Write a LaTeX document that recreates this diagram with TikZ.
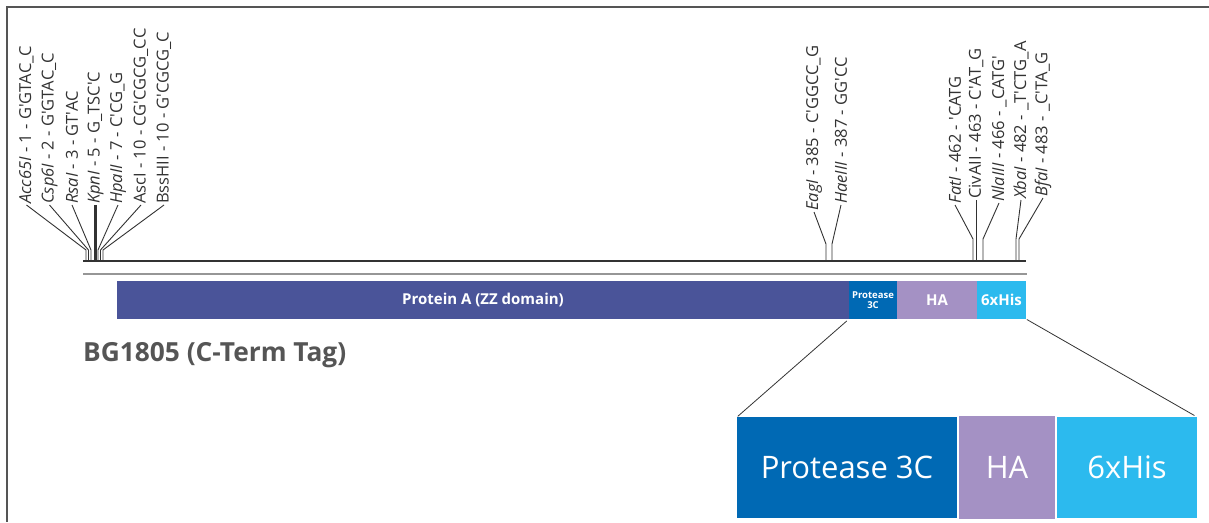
\documentclass[tikz,border=0pt]{standalone}
\usepackage{fontspec}
\setmainfont{Open Sans}
\usepackage{tikz}
\usetikzlibrary{
	positioning,
	calc
}
\definecolor{FrameGray}{RGB}{85,85,85}
\definecolor{LineDark}{RGB}{50,50,50}
\definecolor{LineLight}{RGB}{150,150,150}
\definecolor{ZZBlue}{RGB}{74,84,153}
\definecolor{CutBlue}{RGB}{0,105,180}
\definecolor{HALilac}{RGB}{164,145,196}
\definecolor{HisCyan}{RGB}{44,186,238}
\newcommand{\cutq}{\textquotesingle}

\tikzset{
	sitelabel/.style={
		rotate=90,
		anchor=west,
		inner sep=1pt,
		text=LineDark,
		font=\fontsize{16.5}{16.5}\selectfont
	},
	leader/.style={
		LineDark,
		line width=0.9pt
	},
	seg/.style={
		anchor=west,
		inner sep=0pt,
		outer sep=0pt,
		minimum height=38pt,
		text=white,
		font=\fontsize{15}{15}\selectfont\bfseries
	},
	bigseg/.style={
		inner sep=0pt,
		outer sep=0pt,
		minimum height=101pt,
		text=white,
		font=\fontsize{31}{31}\selectfont
	}
}

\begin{document}
\begin{tikzpicture}[x=1pt,y=-1pt]
				
				\useasboundingbox (0,0) rectangle (1209,522);
				
				% Frame
				\draw[
				FrameGray,
				line width=1.6pt
				]
				(1209,7) -- (7,7) -- (7,522);
				
				% Cut sites on the sequence
				\coordinate (acc-cut) at (86,261);
				\coordinate (csp-cut) at (88.5,261);
				\coordinate (rsa-cut) at (91,261);
				\coordinate (kpn-cut) at (95.5,261);
				\coordinate (hpa-cut) at (98,261);
				\coordinate (asc-cut) at (100.5,261);
				\coordinate (bss-cut) at (103,261);
				\coordinate (eag-cut) at (826,261);
				\coordinate (hae-cut) at (832,261);
				\coordinate (fat-cut) at (973,261);
				\coordinate (civ-cut) at (976,261);
				\coordinate (nla-cut) at (983,261);
				\coordinate (xba-cut) at (1016,261);
				\coordinate (bfa-cut) at (1019,261);
				
				% Enzyme labels
				\node[sitelabel] (acc) at (26.5,205) {{\itshape Acc65I} - 1 - G\cutq GTAC\_C};
				\node[sitelabel] (csp) at (49.5,205) {{\itshape Csp6I} - 2 - G\cutq GTAC\_C};
				\node[sitelabel] (rsa) at (72,205) {{\itshape RsaI} - 3 - GT\cutq AC};
				\node[sitelabel] (kpn) at (95.5,205) {{\itshape KpnI} - 5 - G\_TSC\cutq C};
				\node[sitelabel] (hpa) at (118,205) {{\itshape HpaII} - 7 - C\cutq CG\_G};
				\node[sitelabel] (asc) at (141,205) {AscI - 10 - CG\cutq CGCG\_CC};
				\node[sitelabel] (bss) at (164,205) {BssHII - 10 - G\cutq CGCG\_C};
				
				\node[sitelabel] (eag) at (814,212) {{\itshape EagI} - 385 - C\cutq GGCC\_G};
				\node[sitelabel] (hae) at (841,205) {{\itshape HaeIII} - 387 - GG\cutq CC};
				
				\node[sitelabel] (fat) at (955,205) {{\itshape FatI} - 462 - \cutq CATG};
				\node[sitelabel] (civ) at (976,200) {CivAII - 463 - C\cutq AT\_G};
				\node[sitelabel] (nla) at (999,203) {{\itshape NlaIII} - 466 - \_CATG\cutq};
				\node[sitelabel] (xba) at (1021,200) {{\itshape XbaI} - 482 - \_T\cutq CTG\_A};
				\node[sitelabel] (bfa) at (1043,198) {{\itshape BfaI} - 483 - \_C\cutq TA\_G};
				
				% Leaders
				\draw[leader] (acc.west) -- ([yshift=11pt]acc-cut) -- (acc-cut);
				\draw[leader] (csp.west) -- ([yshift=11pt]csp-cut) -- (csp-cut);
				\draw[leader] (rsa.west) -- ([yshift=11pt]rsa-cut) -- (rsa-cut);
				\draw[leader, line width=2.2pt] (kpn.west) -- (kpn-cut);
				\draw[leader] (hpa.west) -- ([yshift=11pt]hpa-cut) -- (hpa-cut);
				\draw[leader] (asc.west) -- ([yshift=11pt]asc-cut) -- (asc-cut);
				\draw[leader] (bss.west) -- ([yshift=11pt]bss-cut) -- (bss-cut);
				
				\draw[leader] (eag.west) -- ([yshift=17pt]eag-cut) -- (eag-cut);
				\draw[leader] (hae.west) -- ([yshift=17pt]hae-cut) -- (hae-cut);
				
				\draw[leader] (fat.west) -- ([yshift=22pt]fat-cut) -- (fat-cut);
				\draw[leader] (civ.west) -- (civ-cut);
				\draw[leader] (nla.west) -- ([yshift=22pt]nla-cut) -- (nla-cut);
				\draw[leader] (xba.west) -- ([yshift=22pt]xba-cut) -- (xba-cut);
				\draw[leader] (bfa.west) -- ([yshift=22pt]bfa-cut) -- (bfa-cut);
				
				% Sequence lines
				\draw[
				LineDark,
				line width=2.6pt
				]
				(83,261) -- (1026,261);
				
				\draw[
				LineLight,
				line width=1.6pt
				]
				(83,274) -- (1027,274);
				
				% Construct bar
				\node[seg, fill=ZZBlue, minimum width=732pt] (zz) at (117,300) {Protein A (ZZ domain)};
				\node[seg, fill=CutBlue, minimum width=48pt, right=0pt of zz,
				font=\fontsize{9.5}{10}\selectfont\bfseries, align=center] (p3c) {Protease\\3C};
				\node[seg, fill=HALilac, minimum width=80pt, right=0pt of p3c] (ha) {HA};
				\node[seg, fill=HisCyan, minimum width=49pt, right=0pt of ha] (his) {6xHis};
				
				% Construct name
				\node[
				anchor=west,
				inner sep=0pt,
				text=FrameGray,
				font=\fontsize{26.3}{26.3}\selectfont\bfseries
				]
				(name) at (83,355) {BG1805 (C-Term Tag)};
				
				% Enlarged tag
				\node[bigseg, fill=CutBlue, minimum width=220pt, anchor=north west] (bigp3c) at (737,417) {Protease 3C};
				\node[bigseg, fill=HALilac, minimum width=96pt, minimum height=103pt, right=2pt of bigp3c] (bigha) {HA};
				\node[bigseg, fill=HisCyan, minimum width=140pt, right=2pt of bigha] (bighis) {6xHis};
				
				% Zoom lines
				\draw[
				LineDark,
				line width=0.8pt,
				shorten <=3pt,
				shorten >=1pt
				]
				(p3c.south west) -- (bigp3c.north west);
				
				\draw[
				LineDark,
				line width=0.8pt,
				shorten <=1pt,
				shorten >=3pt
				]
				(his.south east) -- (bighis.north east);
				
			\end{tikzpicture}
\end{document}
